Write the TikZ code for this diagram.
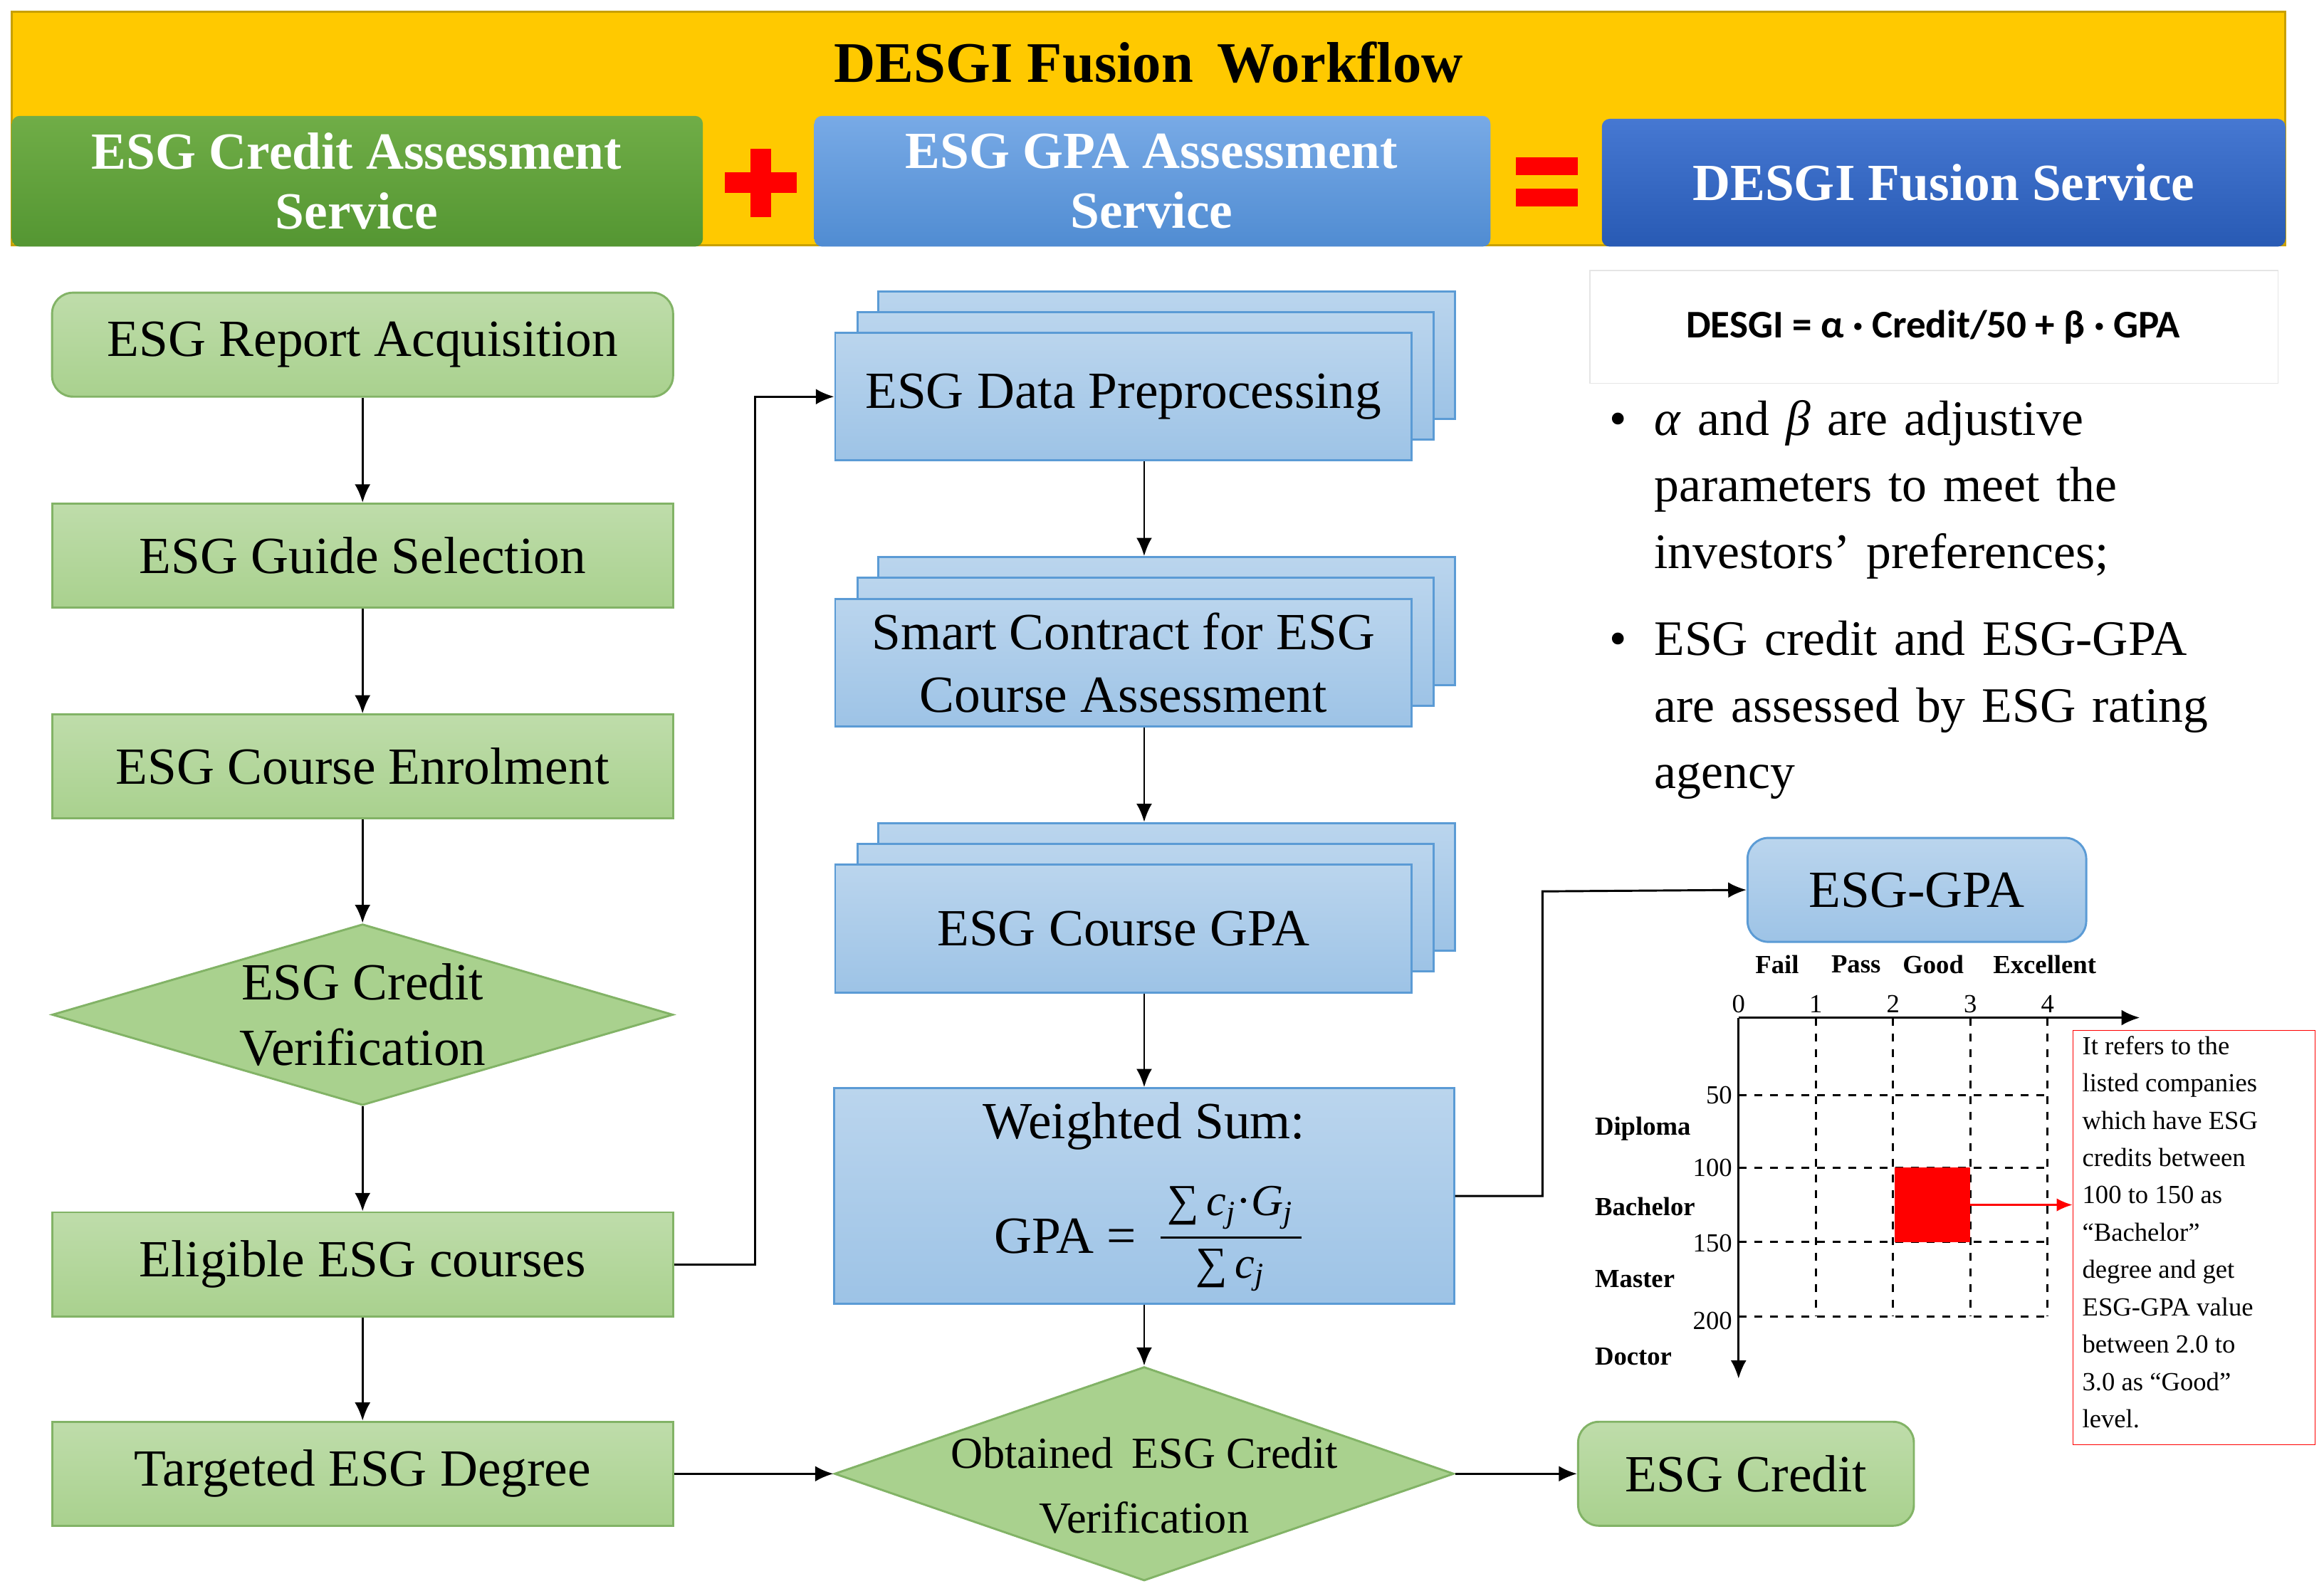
\documentclass[tikz,border=0pt]{standalone}
\usepackage{fontspec}
\setmainfont{Liberation Serif}
\newfontfamily\sansb{Carlito}
\usetikzlibrary{shapes.geometric,arrows.meta}
\definecolor{gfill}{HTML}{A9D18E}
\definecolor{gline}{HTML}{82B366}
\definecolor{bfill}{HTML}{9DC3E6}
\definecolor{bline}{HTML}{5B9BD5}
\tikzset{
 gbox/.style={draw=gline,line width=0.8pt,top color=gfill!75,bottom color=gfill,minimum width=8.36cm,minimum height=1.4cm,font=\fontsize{20}{24}\selectfont,align=center,inner sep=0},
 grbox/.style={gbox,rounded corners=8pt},
 bbox/.style={draw=bline,line width=0.8pt,top color=bfill!70,bottom color=bfill,minimum width=7.76cm,minimum height=1.72cm,font=\fontsize{20}{24}\selectfont,align=center,inner sep=0},
 gdia/.style={diamond,draw=gline,fill=gfill,line width=0.8pt,inner sep=0,minimum width=8.36cm,minimum height=2.44cm},
 arr/.style={-{Latex[length=7pt,width=6pt]},line width=0.8pt},
 hdr/.style={text=white,font=\bfseries\fontsize{20}{23}\selectfont,align=center,inner sep=0},
 small/.style={font=\fontsize{10}{12}\selectfont,inner sep=0},
 smallb/.style={font=\bfseries\fontsize{10}{12}\selectfont,inner sep=0},
}
\begin{document}
\begin{tikzpicture}[x=0.02cm,y=-0.02cm]
\useasboundingbox (0,0) rectangle (1564,1070.5);
% banner
\fill[color={rgb,255:red,255;green,201;blue,0}] (8,8) rectangle (1538,165);
\draw[color={rgb,255:red,200;green,160;blue,0},line width=0.8pt] (8,8) rectangle (1538,165);
\node[font=\bfseries\fontsize{22}{26}\selectfont] (title) at (773,42) {DESGI Fusion\, Workflow};
\shade[top color={rgb,255:red,112;green,173;blue,71},bottom color={rgb,255:red,84;green,150;blue,50},rounded corners=3pt] (8,78) rectangle (473,166);
\node[hdr] (h1) at (240,122) {ESG Credit Assessment\\Service};
\shade[top color={rgb,255:red,120;green,170;blue,230},bottom color={rgb,255:red,80;green,140;blue,210},rounded corners=3pt] (548,78) rectangle (1003,166);
\node[hdr] (h2) at (775,122) {ESG GPA Assessment\\Service};
\shade[top color={rgb,255:red,70;green,120;blue,210},bottom color={rgb,255:red,40;green,90;blue,180},rounded corners=3pt] (1078,80) rectangle (1538,166);
\node[hdr] (h3) at (1308,123) {DESGI Fusion Service};
\fill[red] (505,100) rectangle (519,146);
\fill[red] (488,116) rectangle (536,130);
\fill[red] (1020,106) rectangle (1062,118);
\fill[red] (1020,127) rectangle (1062,139);
% left column
\node[grbox] (a1) at (244,232) {ESG Report Acquisition};
\node[gbox] (a2) at (244,374) {ESG Guide Selection};
\node[gbox] (a3) at (244,516) {ESG Course Enrolment};
\node[gdia] (a4) at (244,683) {};
\node[font=\fontsize{20}{25}\selectfont,align=center] (a4t) at (244,683) {ESG Credit\\Verification};
\node[gbox] (a5) at (244,851) {Eligible ESG courses};
\node[gbox] (a6) at (244,992) {Targeted ESG Degree};
\draw[arr] (a1) -- (a2);
\draw[arr] (a2) -- (a3);
\draw[arr] (a3) -- (a4);
\draw[arr] (a4) -- (a5);
\draw[arr] (a5) -- (a6);
% middle column
\node[bbox] (b1c) at (785,239) {};
\node[bbox] (b1b) at (771,253) {};
\node[bbox] (b1) at (756,267) {ESG Data Preprocessing};
\node[bbox] (b2c) at (785,418) {};
\node[bbox] (b2b) at (771,432) {};
\node[bbox] (b2) at (756,446) {Smart Contract for ESG\\Course Assessment};
\node[bbox] (b3c) at (785,597) {};
\node[bbox] (b3b) at (771,611) {};
\node[bbox] (b3) at (756,625) {ESG Course GPA};
\node[bbox,minimum width=8.34cm,minimum height=2.9cm] (b4) at (770,805) {};
\node[font=\fontsize{20}{24}\selectfont] (b4t) at (770,758) {Weighted Sum:};
\node[font=\fontsize{20}{24}\selectfont] (b4g) at (717,832) {GPA =};
\node[font=\fontsize{17}{20}\selectfont,inner sep=1pt] (b4n) at (828,813) {∑\,\textit{c\textsubscript{j}}·\textit{G\textsubscript{j}}};
\node[font=\fontsize{17}{20}\selectfont,inner sep=1pt] (b4d) at (828,855) {∑\,\textit{c\textsubscript{j}}};
\draw[line width=1pt] (781,833) -- (876,833);
\node[gdia,minimum width=8.34cm,minimum height=2.88cm] (b5) at (770,992) {};
\node[font=\fontsize{17}{25}\selectfont,align=center] (b5t) at (770,1000) {Obtained\, ESG Credit\\Verification};
\draw[arr] (b1.south -| 770,0) -- (b2c.north -| 770,0);
\draw[arr] (b2.south -| 770,0) -- (b3c.north -| 770,0);
\draw[arr] (b3.south -| 770,0) -- (b4.north);
\draw[arr] (b4.south) -- (b5.north);
\draw[arr] (a5.east) -- (508,851) -- (508,267) -- (b1.west);
\draw[arr] (a6.east) -- (b5.west);
% right
\node[grbox,minimum width=4.52cm] (c1) at (1175,992) {ESG Credit};
\draw[arr] (b5.east) -- (c1.west);
\node[draw=bline,line width=0.8pt,top color=bfill!70,bottom color=bfill,rounded corners=8pt,minimum width=4.56cm,minimum height=1.4cm,font=\fontsize{20}{24}\selectfont] (c2) at (1290,599) {ESG-GPA};
\draw[arr] (b4.east) -- (1038,805) -- (1038,600) -- (c2.west);
\draw[black!10] (1070,182) rectangle (1533,258);
\node[font=\sansb\bfseries\fontsize{15}{18}\selectfont] (f) at (1301,220) {DESGI = α · Credit/50 + β · GPA};
\node[anchor=north west,text width=8.8cm,font=\fontsize{19}{25.5}\selectfont,inner sep=0,align=left] (bul) at (1083,269) {
\makebox[0.6cm][l]{•}\textit{α} and \textit{β} are adjustive\\\hspace*{0.6cm}parameters to meet the\\\hspace*{0.6cm}investors’ preferences;\\[0.28cm]
\makebox[0.6cm][l]{•}ESG credit and ESG-GPA\\\hspace*{0.6cm}are assessed by ESG rating\\\hspace*{0.6cm}agency};
% chart
\coordinate (o) at (1170,685);
\coordinate (xe) at (1440,685);
\coordinate (ye) at (1170,928);
\draw[arr] (o) -- (xe);
\draw[arr] (o) -- (ye);
\foreach \x in {1222,1274,1326,1378} \draw[dashed,line width=0.8pt] (\x,685) -- (\x,886);
\foreach \y in {737,786,836,886} \draw[dashed,line width=0.8pt] (1170,\y) -- (1378,\y);
\fill[red] (1275,786) rectangle (1326,836);
\foreach \x/\l in {1170/0,1222/1,1274/2,1326/3,1378/4} \node[small,anchor=south] at (\x,682) {\l};
\foreach \y/\l in {737/50,786/100,837/150,889/200} \node[small,anchor=east] at (1166,\y) {\l};
\node[smallb] at (1196,649) {Fail};
\node[smallb] at (1249,649) {Pass};
\node[smallb] at (1301,649) {Good};
\node[smallb] at (1376,649) {Excellent};
\foreach \y/\l in {760/Diploma,812/Bachelor,861/Master,913/Doctor} \node[smallb,anchor=west] at (1073,\y) {\l};
\node[draw=red,minimum width=3.26cm,minimum height=5.58cm,inner sep=0] (note) at (1476.5,833) {};
\node[anchor=north west,inner sep=0,align=left,font=\fontsize{10}{14.3}\selectfont] (notet) at (1401,697) {It refers to the\\listed companies\\which have ESG\\credits between\\100 to 150 as\\“Bachelor”\\degree and get\\ESG-GPA value\\between 2.0 to\\3.0 as “Good”\\level.};
\coordinate (rs) at (1326,811);
\draw[-{Latex[length=6pt,width=5pt]},red,line width=0.6pt] (rs) -- (note.west |- rs);
\end{tikzpicture}
\end{document}
